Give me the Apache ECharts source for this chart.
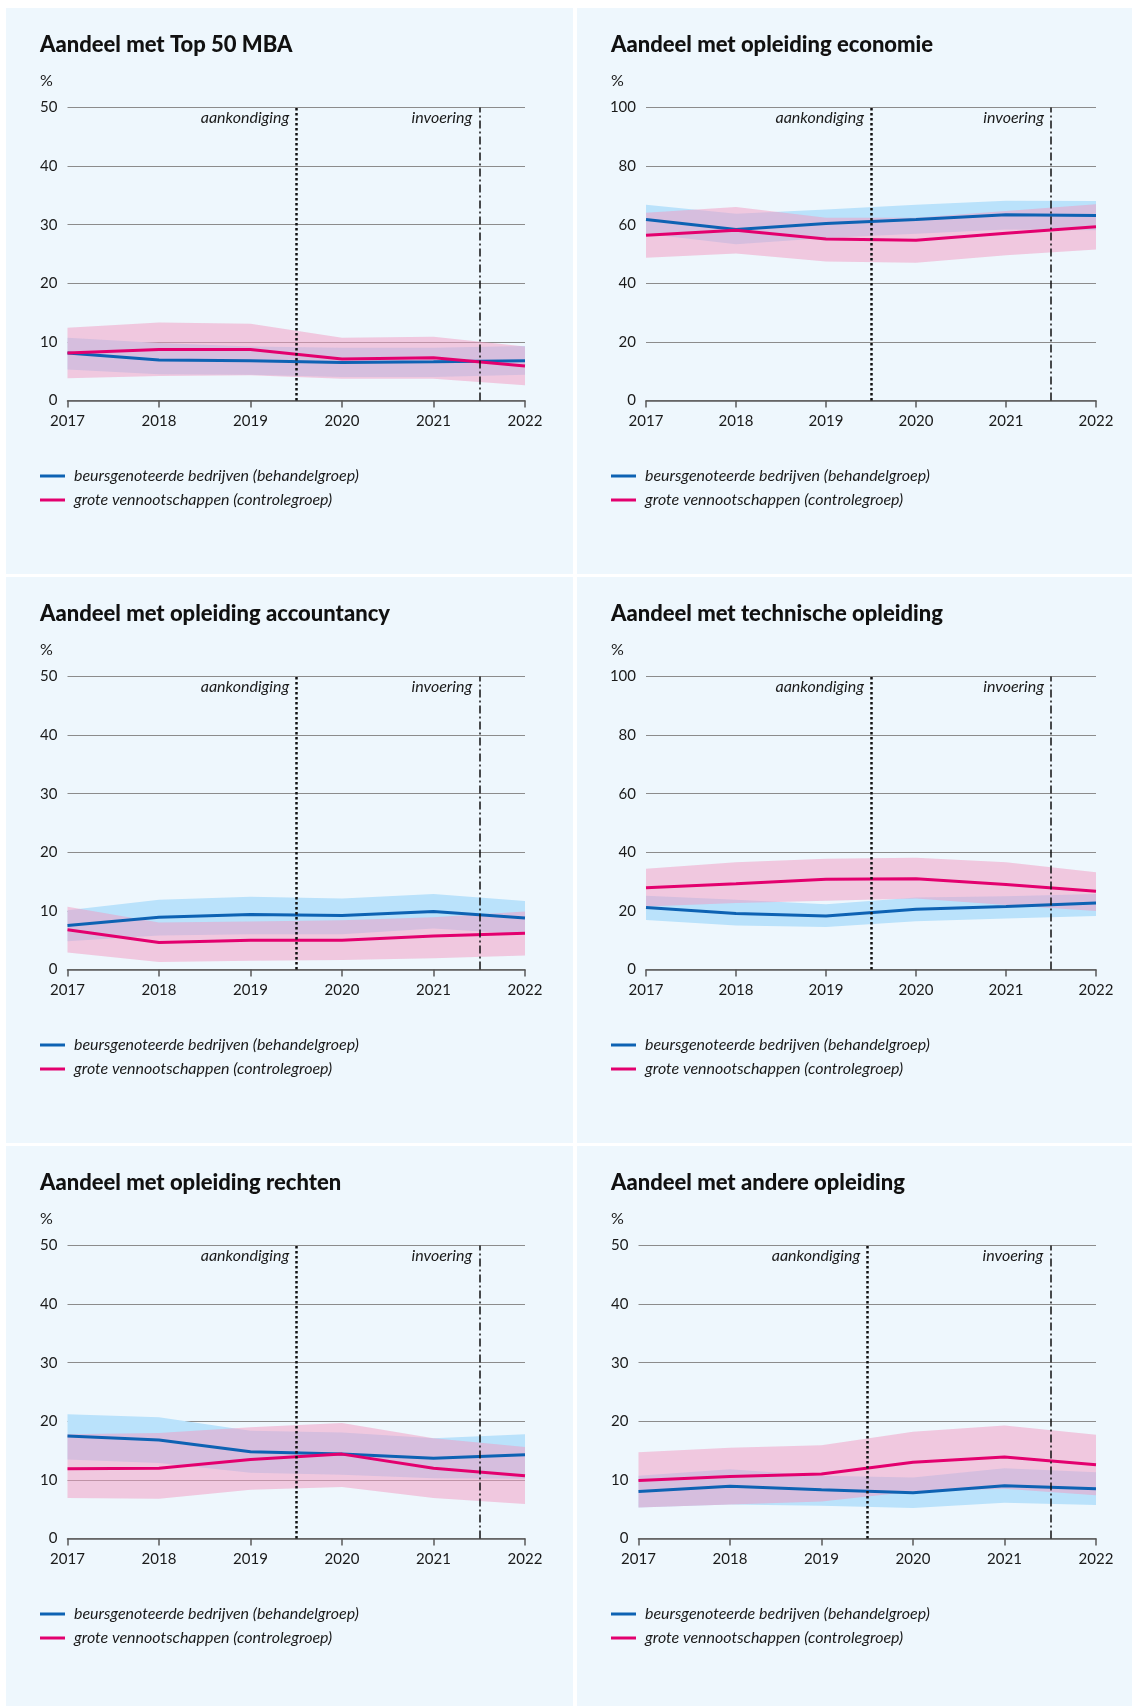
<!DOCTYPE html>
<html>
<head>
<meta charset="utf-8">
<script src="https://cdn.jsdelivr.net/npm/echarts@6/dist/echarts.min.js"></script>
<style>
html, body { margin: 0; padding: 0; background: #ffffff; width: 1132px; height: 1706px; overflow: hidden; }
.panel { position: absolute; background: #eef7fd; }
</style>
</head>
<body>
<div id="p0" class="panel" style="left:6px;top:8px;width:567px;height:566px"></div>
<div id="p1" class="panel" style="left:577px;top:8px;width:555px;height:566px"></div>
<div id="p2" class="panel" style="left:6px;top:577px;width:567px;height:566px"></div>
<div id="p3" class="panel" style="left:577px;top:577px;width:555px;height:566px"></div>
<div id="p4" class="panel" style="left:6px;top:1146px;width:567px;height:560px"></div>
<div id="p5" class="panel" style="left:577px;top:1146px;width:555px;height:560px"></div>
<script>
// ---------- DATA ----------
const years = [2017, 2018, 2019, 2020, 2021, 2022];
const legendNames = ['beursgenoteerde bedrijven (behandelgroep)', 'grote vennootschappen (controlegroep)'];
const events = [[2019.5, 'aankondiging'], [2021.5, 'invoering']];
const titles = [
  'Aandeel met Top 50 MBA',
  'Aandeel met opleiding economie',
  'Aandeel met opleiding accountancy',
  'Aandeel met technische opleiding',
  'Aandeel met opleiding rechten',
  'Aandeel met andere opleiding'
];
const axisMax = [50, 100, 50, 100, 50, 50];
const axisStep = [10, 20, 10, 20, 10, 10];

// Top 50 MBA
const mbaBlue   = [8.1, 6.9, 6.8, 6.5, 6.6, 6.8];
const mbaPink   = [8.1, 8.7, 8.7, 7.1, 7.3, 5.9];
const mbaBlueHi = [10.7, 9.8, 9.2, 9.0, 9.0, 9.3];
const mbaBlueLo = [5.3, 4.5, 4.4, 4.0, 4.0, 4.4];
const mbaPinkHi = [12.4, 13.3, 13.1, 10.7, 10.9, 9.2];
const mbaPinkLo = [3.8, 4.2, 4.3, 3.7, 3.7, 2.6];

// economie
const ecoBlue   = [61.8, 58.4, 60.4, 61.8, 63.4, 63.1];
const ecoPink   = [56.4, 58.1, 55.1, 54.7, 57.1, 59.3];
const ecoBlueHi = [66.8, 63.7, 65.2, 66.8, 68.2, 68.1];
const ecoBlueLo = [56.9, 53.3, 55.5, 56.9, 58.4, 58.1];
const ecoPinkHi = [64.1, 66.0, 62.4, 62.4, 64.7, 67.0];
const ecoPinkLo = [48.7, 50.2, 47.4, 47.0, 49.6, 51.5];

// accountancy
const accBlue   = [7.5, 8.9, 9.4, 9.2, 9.9, 8.8];
const accPink   = [6.8, 4.6, 5.0, 5.0, 5.7, 6.2];
const accBlueHi = [10.1, 11.9, 12.4, 12.1, 12.9, 11.7];
const accBlueLo = [4.8, 5.8, 6.0, 6.0, 7.0, 6.0];
const accPinkHi = [10.7, 8.0, 8.2, 8.4, 8.9, 9.9];
const accPinkLo = [2.9, 1.3, 1.5, 1.6, 1.9, 2.4];

// technische opleiding
const tecBlue   = [21.2, 19.1, 18.3, 20.6, 21.5, 22.7];
const tecPink   = [27.9, 29.3, 30.8, 31.0, 29.0, 26.7];
const tecBlueHi = [25.2, 23.8, 22.3, 24.6, 25.0, 25.8];
const tecBlueLo = [16.9, 15.0, 14.5, 16.5, 17.4, 18.3];
const tecPinkHi = [34.4, 36.6, 37.8, 38.1, 36.6, 33.2];
const tecPinkLo = [21.5, 22.7, 23.5, 24.2, 22.0, 20.0];

// rechten
const recBlue   = [17.5, 16.8, 14.8, 14.4, 13.7, 14.3];
const recPink   = [11.9, 12.0, 13.5, 14.4, 12.0, 10.7];
const recBlueHi = [21.2, 20.7, 18.4, 18.1, 17.1, 17.8];
const recBlueLo = [13.5, 12.9, 11.2, 10.9, 10.3, 10.2];
const recPinkHi = [17.8, 18.0, 19.0, 19.7, 17.1, 15.6];
const recPinkLo = [6.9, 6.8, 8.3, 8.8, 6.9, 5.9];

// andere opleiding
const andBlue   = [8.0, 8.9, 8.3, 7.8, 9.0, 8.5];
const andPink   = [9.9, 10.6, 11.0, 13.0, 13.9, 12.6];
const andBlueHi = [10.7, 11.8, 10.7, 10.4, 12.0, 11.3];
const andBlueLo = [5.3, 5.8, 5.6, 5.2, 6.1, 5.7];
const andPinkHi = [14.7, 15.5, 15.9, 18.2, 19.3, 17.7];
const andPinkLo = [5.3, 5.8, 6.3, 8.0, 8.5, 7.4];

const panelSeries = [
  [mbaBlue, mbaPink, mbaBlueHi, mbaBlueLo, mbaPinkHi, mbaPinkLo],
  [ecoBlue, ecoPink, ecoBlueHi, ecoBlueLo, ecoPinkHi, ecoPinkLo],
  [accBlue, accPink, accBlueHi, accBlueLo, accPinkHi, accPinkLo],
  [tecBlue, tecPink, tecBlueHi, tecBlueLo, tecPinkHi, tecPinkLo],
  [recBlue, recPink, recBlueHi, recBlueLo, recPinkHi, recPinkLo],
  [andBlue, andPink, andBlueHi, andBlueLo, andPinkHi, andPinkLo]
];

// ---------- STYLE ----------
const BLUE = '#0d62b3';
const PINK = '#e3006e';
const BLUE_BAND = '#bae2fb';
const PINK_BAND = 'rgba(242,153,193,0.5)';
const TXT = '#1a1a1a';
const FONT = 'Lato, "Open Sans", sans-serif';

function pairs(arr) { return years.map((y, i) => [y, arr[i]]); }

// band polygon drawn through the chart's own coordinate system
function bandSeries(name, lo, hi, color) {
  return {
    name: name, type: 'custom', silent: true, clip: true,
    data: years.map((y, i) => [y, lo[i], hi[i]]),
    encode: { x: 0, y: [1, 2] },
    renderItem: function (params, api) {
      if (params.dataIndex !== 0) return;
      const pts = [];
      for (let i = 0; i < years.length; i++) pts.push(api.coord([years[i], hi[i]]));
      for (let i = years.length - 1; i >= 0; i--) pts.push(api.coord([years[i], lo[i]]));
      return { type: 'polygon', shape: { points: pts }, style: { fill: color }, silent: true };
    }
  };
}

panelSeries.forEach((s, idx) => {
  const el = document.getElementById('p' + idx);
  const W = el.clientWidth, H = el.clientHeight;
  const [bl, pk, bhi, blo, phi, plo] = s;
  const max = axisMax[idx];
  const gridLeft = max >= 100 ? 69 : 61.5;
  const chart = echarts.init(el, null, { renderer: 'canvas' });
  const opt = {
    animation: false,
    backgroundColor: 'transparent',
    title: {
      text: titles[idx], left: 34, top: 26, padding: 0,
      textStyle: { fontFamily: FONT, fontSize: 22, fontWeight: 900, color: '#111' }
    },
    legend: {
      orient: 'vertical', left: 34, top: 458, padding: 0,
      data: legendNames, icon: 'rect', itemWidth: 25, itemHeight: 3, itemGap: 4,
      selectedMode: false,
      textStyle: { fontFamily: FONT, fontSize: 16, fontStyle: 'italic', color: TXT, lineHeight: 20, padding: [0, 0, 0, 4] }
    },
    grid: { left: gridLeft, right: W - 519, top: 99.5, bottom: H - 392.5, outerBoundsMode: 'none', containLabel: false },
    xAxis: {
      type: 'value', min: 2017, max: 2022, interval: 1,
      axisLine: { show: true, lineStyle: { color: '#5a5a5a', width: 1.5 } },
      axisTick: { show: true, length: 7, lineStyle: { color: '#5a5a5a', width: 1.5 } },
      axisLabel: { margin: 13, color: TXT, fontFamily: FONT, fontSize: 15, formatter: v => String(v) },
      splitLine: { show: false }
    },
    yAxis: {
      type: 'value', min: 0, max: max, interval: axisStep[idx],
      axisLine: { show: false }, axisTick: { show: false },
      axisLabel: { margin: 10, color: TXT, fontFamily: FONT, fontSize: 15 },
      splitLine: { show: true, lineStyle: { color: '#8c8c8c', width: 1 } }
    },
    series: [
      bandSeries('bBand', blo, bhi, BLUE_BAND),
      bandSeries('pBand', plo, phi, PINK_BAND),
      {
        name: legendNames[0], type: 'line', data: pairs(bl), showSymbol: false,
        itemStyle: { color: BLUE }, lineStyle: { color: BLUE, width: 3 },
        markLine: {
          silent: true, symbol: ['none', 'none'], label: { show: false }, animation: false,
          data: [
            { xAxis: events[0][0], lineStyle: { type: [2.5, 2.5], width: 2.5, color: '#111' } },
            { xAxis: events[1][0], lineStyle: { type: [8, 3, 2, 3], width: 1.5, color: '#111' } }
          ]
        }
      },
      { name: legendNames[1], type: 'line', data: pairs(pk), showSymbol: false, itemStyle: { color: PINK }, lineStyle: { color: PINK, width: 3 } }
    ]
  };
  chart.setOption(opt);
  const g = [{ type: 'text', x: 34, y: 73, style: { text: '%', fill: TXT, font: '16px ' + FONT, align: 'left', verticalAlign: 'middle' } }];
  events.forEach(([x, label]) => {
    const px = chart.convertToPixel({ xAxisIndex: 0 }, x);
    const py = chart.convertToPixel({ yAxisIndex: 0 }, max);
    g.push({ type: 'text', x: px - 7, y: py + 10, style: { text: label, fill: TXT, font: 'italic 16px ' + FONT, align: 'right', verticalAlign: 'middle' } });
  });
  chart.setOption({ graphic: g });
});
</script>
</body>
</html>
